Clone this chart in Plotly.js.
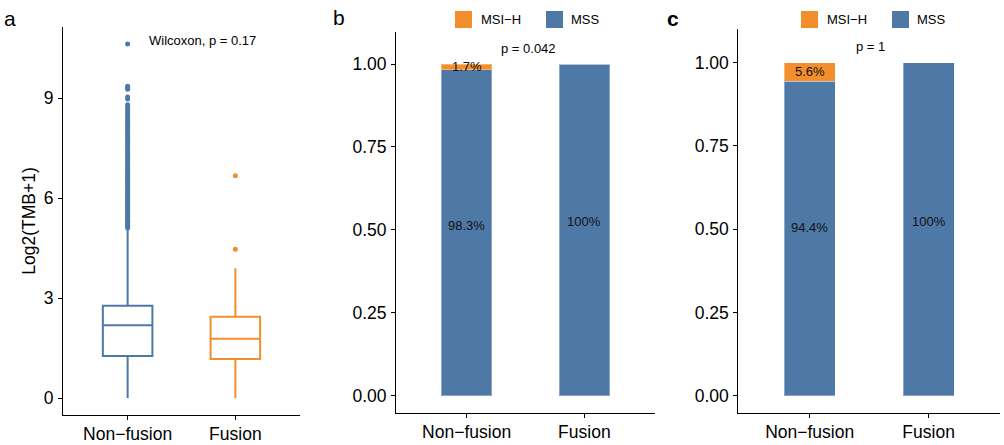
<!DOCTYPE html>
<html>
<head>
<meta charset="utf-8">
<script src="https://cdn.plot.ly/plotly-3.0.1.min.js"></script>
<style>html,body{margin:0;padding:0;background:#fff;}#chart{width:1004px;height:445px;}</style>
</head>
<body>
<div id="chart"></div>
<script>
// ---------- data ----------
const categories = ['Non−fusion', 'Fusion'];

// Panel a: box statistics of Log2(TMB+1)
const boxQ1 = [1.26, 1.17];
const boxMedian = [2.18, 1.78];
const boxQ3 = [2.77, 2.44];
const boxLower = [0, 0];
const boxUpper = [5.04, 3.89];
const outliersNonFusion = [10.62, 9.35, 9.31, 9.26, 9.03, 8.97, 8.8, 8.72, 8.65, 8.58, 8.5, 8.44, 8.37, 8.3, 8.24, 8.17, 8.1, 8.04, 7.97, 7.9, 7.84, 7.77, 7.7, 7.64, 7.57, 7.5, 7.45, 7.38, 7.31, 7.25, 7.18, 7.12, 7.05, 7.0, 6.93, 6.87, 6.8, 6.75, 6.68, 6.62, 6.56, 6.5, 6.45, 6.4, 6.34, 6.28, 6.22, 6.17, 6.12, 6.06, 6.0, 5.95, 5.9, 5.85, 5.8, 5.75, 5.7, 5.65, 5.6, 5.55, 5.5, 5.45, 5.4, 5.35, 5.3, 5.25, 5.2, 5.15, 5.1];
const outliersFusion = [6.67, 4.46];
const wilcoxonLabel = 'Wilcoxon, p = 0.17';

// Panel b: MSI status proportions
const bMSS = [0.983, 1.0];
const bMSIH = [0.017, 0];
const bMSSLabels = ['98.3%', '100%'];
const bMSIHLabels = ['1.7%', ''];
const bPLabel = 'p = 0.042';

// Panel c: MSI status proportions
const cMSS = [0.944, 1.0];
const cMSIH = [0.056, 0];
const cMSSLabels = ['94.4%', '100%'];
const cMSIHLabels = ['5.6%', ''];
const cPLabel = 'p = 1';

const yTicksA = [0, 3, 6, 9];
const yTicksBC = [0, 0.25, 0.5, 0.75, 1];
const legendNames = ['MSI−H', 'MSS'];

// ---------- style ----------
const BLUE = '#4E79A7';
const ORANGE = '#F28E2B';
const FONT = 'Liberation Sans, Arial, Helvetica, sans-serif';
const W = 1004, H = 445;
const px = v => v / W;
const py = v => 1 - v / H;

const traces = [];
const boxColors = [BLUE, ORANGE];
categories.forEach((c, i) => {
  traces.push({
    type: 'box', xaxis: 'x', yaxis: 'y',
    x: [c], q1: [boxQ1[i]], median: [boxMedian[i]], q3: [boxQ3[i]],
    lowerfence: [boxLower[i]], upperfence: [boxUpper[i]],
    boxpoints: false, width: 0.46, whiskerwidth: 0,
    line: {color: boxColors[i], width: 2}, fillcolor: 'rgba(255,255,255,0)',
    showlegend: false, hoverinfo: 'skip'
  });
});
traces.push({
  type: 'scatter', mode: 'markers', xaxis: 'x', yaxis: 'y',
  x: outliersNonFusion.map(() => categories[0]), y: outliersNonFusion,
  marker: {color: BLUE, size: 5}, showlegend: false, hoverinfo: 'skip'
});
traces.push({
  type: 'scatter', mode: 'markers', xaxis: 'x', yaxis: 'y',
  x: outliersFusion.map(() => categories[1]), y: outliersFusion,
  marker: {color: ORANGE, size: 5}, showlegend: false, hoverinfo: 'skip'
});

function barPair(mss, msih, xa, ya) {
  traces.push({
    type: 'bar', xaxis: xa, yaxis: ya, x: categories, y: mss, width: 0.43,
    marker: {color: BLUE, line: {color: 'rgba(255,255,255,0.35)', width: 1}},
    name: 'MSS', showlegend: false, hoverinfo: 'skip'
  });
  traces.push({
    type: 'bar', xaxis: xa, yaxis: ya, x: categories, y: msih, width: 0.43,
    marker: {color: ORANGE, line: {color: 'rgba(255,255,255,0.35)', width: 1}},
    name: 'MSI−H', showlegend: false, hoverinfo: 'skip'
  });
}
barPair(bMSS, bMSIH, 'x2', 'y2');
barPair(cMSS, cMSIH, 'x3', 'y3');

const axisCommon = {
  showline: true, linecolor: '#000', linewidth: 1, mirror: false,
  ticks: 'outside', ticklen: 4, tickwidth: 1, tickcolor: '#000',
  showgrid: false, zeroline: false, fixedrange: true,
  tickfont: {family: FONT, size: 17.5, color: '#000'}
};

const xCat = Object.assign({}, axisCommon, {
  type: 'category', categoryorder: 'array', categoryarray: categories,
  range: [-0.6, 1.6], ticklabelstandoff: -1
});

const layout = {
  width: W, height: H, autosize: false,
  margin: {l: 0, r: 0, t: 0, b: 0},
  paper_bgcolor: '#fff', plot_bgcolor: '#fff',
  barmode: 'stack', bargap: 0,
  font: {family: FONT, color: '#000'},
  xaxis: Object.assign({}, xCat, {domain: [px(63), px(300)], anchor: 'y'}),
  yaxis: Object.assign({}, axisCommon, {
    domain: [py(415), py(27)], anchor: 'x', range: [-0.51, 11.13],
    tickvals: yTicksA, ticktext: yTicksA.map(String), ticklabelstandoff: 1,
    title: {text: 'Log2(TMB+1)', font: {family: FONT, size: 17.5, color: '#000'}, standoff: 3}
  }),
  xaxis2: Object.assign({}, xCat, {domain: [px(396), px(655)], anchor: 'y2'}),
  yaxis2: Object.assign({}, axisCommon, {
    domain: [py(413.3), py(31.7)], anchor: 'x2', range: [-0.053, 1.0975],
    tickvals: yTicksBC, ticktext: yTicksBC.map(v => v.toFixed(2)), ticklabelstandoff: 1
  }),
  xaxis3: Object.assign({}, xCat, {domain: [px(738.3), px(1000)], anchor: 'y3'}),
  yaxis3: Object.assign({}, axisCommon, {
    domain: [py(413.3), py(29.3)], anchor: 'x3', range: [-0.053, 1.1],
    tickvals: yTicksBC, ticktext: yTicksBC.map(v => v.toFixed(2)), ticklabelstandoff: 1
  }),
  annotations: [],
  shapes: []
};

const ann = layout.annotations;
const txt = (text, x, y, size, extra) => Object.assign({
  text: text, x: x, y: y, xref: 'paper', yref: 'paper', showarrow: false,
  xanchor: 'center', yanchor: 'middle', font: {family: FONT, size: size, color: '#000'}
}, extra || {});

// panel tags
ann.push(txt('a', px(10), py(18), 21));
ann.push(txt('b', px(339), py(17), 21));
ann.push(txt('<b>c</b>', px(673), py(18), 21));

// stats labels
ann.push(txt(wilcoxonLabel, px(202), py(40), 13));
ann.push(txt(bPLabel, px(528.7), py(48.3), 13));
ann.push(txt(cPLabel, px(870.5), py(46), 13));

// bar labels (data coordinates)
function barLabels(mss, msih, mssLab, msihLab, xa, ya, shifts) {
  categories.forEach((c, i) => {
    ann.push({
      text: mssLab[i], x: c, y: mss[i] / 2, xref: xa, yref: ya, showarrow: false,
      yshift: shifts[i], font: {family: FONT, size: 13, color: '#111'}
    });
    if (msihLab[i]) {
      ann.push({
        text: msihLab[i], x: c, y: mss[i] + msih[i] / 2, xref: xa, yref: ya, showarrow: false,
        yshift: 0, font: {family: FONT, size: 13, color: '#111'}
      });
    }
  });
}
barLabels(bMSS, bMSIH, bMSSLabels, bMSIHLabels, 'x2', 'y2', [7, 8]);
barLabels(cMSS, cMSIH, cMSSLabels, cMSIHLabels, 'x3', 'y3', [11, 8]);

// manual legends
function legend(x0, colors) {
  const sq = 17;
  const pos = [[x0, x0 + 24], [x0 + 91, x0 + 114]];
  legendNames.forEach((n, i) => {
    layout.shapes.push({
      type: 'rect', xref: 'paper', yref: 'paper',
      x0: px(pos[i][0]), x1: px(pos[i][0] + sq), y0: py(28), y1: py(11),
      fillcolor: colors[i], line: {width: 0}
    });
    ann.push(txt(n, px(pos[i][1]), py(19.5), 13, {xanchor: 'left'}));
  });
}
legend(455, [ORANGE, BLUE]);
legend(801, [ORANGE, BLUE]);

Plotly.newPlot('chart', traces, layout, {staticPlot: true, displayModeBar: false});
</script>
</body>
</html>
